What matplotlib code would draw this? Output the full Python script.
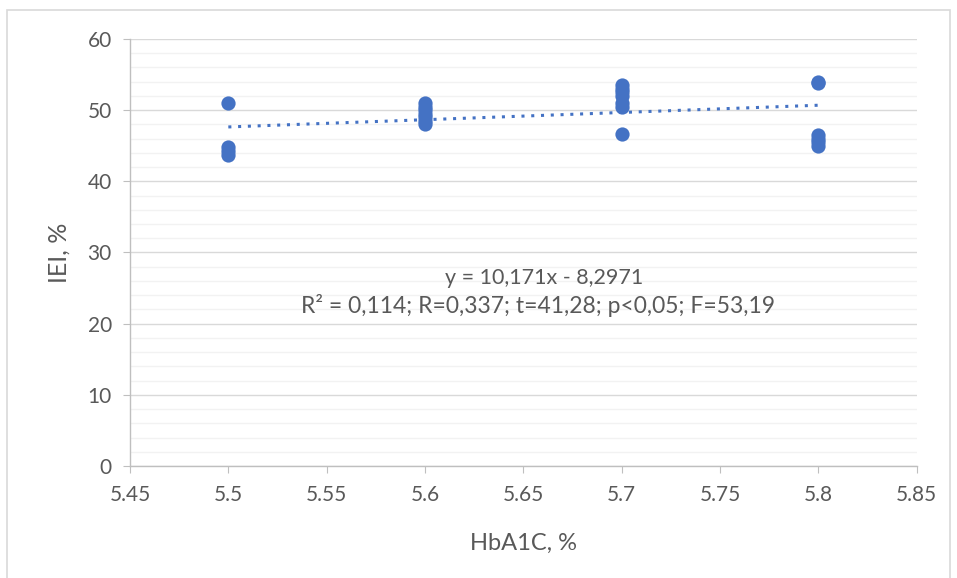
import matplotlib
matplotlib.use('Agg')
import matplotlib.pyplot as plt
from matplotlib.patches import Rectangle
from matplotlib.ticker import MultipleLocator
import numpy as np

plt.rcParams['font.family'] = ['Lato', 'DejaVu Sans']

# HbA1C groups and IEI values per patient
hba1c = [5.5, 5.5, 5.5, 5.5,
         5.6, 5.6, 5.6, 5.6, 5.6, 5.6, 5.6,
         5.7, 5.7, 5.7, 5.7, 5.7, 5.7, 5.7,
         5.8, 5.8, 5.8, 5.8, 5.8, 5.8]
iei = [51.0, 44.8, 44.2, 43.7,
       51.0, 50.5, 50.0, 49.5, 49.0, 48.5, 48.0,
       53.6, 53.0, 52.5, 52.0, 51.0, 50.5, 46.7,
       54.0, 53.8, 46.5, 46.0, 45.5, 45.0]

# linear trend reported in the annotation
slope = 10.171
intercept = -8.2971
eq_label = 'y = 10,171x - 8,2971'
stats_label = 'R² = 0,114; R=0,337; t=41,28; p<0,05; F=53,19'

x_ticks = [5.45, 5.5, 5.55, 5.6, 5.65, 5.7, 5.75, 5.8, 5.85]

blue = '#4472C4'
txt = '#595959'
axis_col = '#BFBFBF'

fig = plt.figure(figsize=(9.57, 5.78), dpi=100)
ax = fig.add_axes([0.1358, 0.1938, 0.8222, 0.7387])

# light outer frame around the chart area
fig.patches.append(Rectangle((0.007, -0.02), 0.986, 1.003, transform=fig.transFigure,
                             fill=False, edgecolor='#D9D9D9', linewidth=1.2))

ax.scatter(hba1c, iei, s=105, color=blue, zorder=3, linewidths=0)

xs = np.array([min(hba1c), max(hba1c)])
ax.plot(xs, slope * xs + intercept, linestyle=(0, (1, 2.2)), color=blue,
        linewidth=2.2, zorder=2)

ax.set_xlim(5.45, 5.85)
ax.set_ylim(0, 60)
ax.set_xticks(x_ticks)
ax.set_xticklabels([f'{v:g}' for v in x_ticks])
ax.yaxis.set_major_locator(MultipleLocator(10))
ax.yaxis.set_minor_locator(MultipleLocator(2))

ax.grid(which='major', axis='y', color='#D9D9D9', linewidth=1.0)
ax.grid(which='minor', axis='y', color='#F2F2F2', linewidth=1.0)
ax.set_axisbelow(True)

for s in ['top', 'right']:
    ax.spines[s].set_visible(False)
for s in ['left', 'bottom']:
    ax.spines[s].set_color(axis_col)
    ax.spines[s].set_linewidth(1.0)

ax.tick_params(which='major', direction='out', length=5, color=axis_col,
               labelcolor=txt, labelsize=15)
ax.tick_params(axis='x', pad=9)
ax.tick_params(axis='y', pad=8)
ax.tick_params(which='minor', length=0)

ax.set_xlabel('HbA1C, %', fontsize=17, color=txt, labelpad=20)
ax.set_ylabel('IEI, %', fontsize=18, color=txt, labelpad=12)

# regression equation and statistics, two lines
ax.text(5.6607, 26.4, eq_label, ha='center', va='center', fontsize=15.5, color=txt)
ax.text(5.6575, 22.5, stats_label, ha='center', va='center', fontsize=16.5, color=txt)

fig.savefig('out.png', dpi=100)
